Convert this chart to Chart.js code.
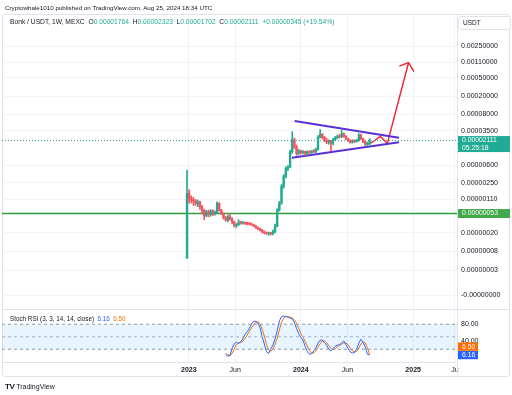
<!DOCTYPE html>
<html>
<head>
<meta charset="utf-8">
<script src="https://cdn.jsdelivr.net/npm/chart.js@4.4.1/dist/chart.umd.min.js"></script>
<style>
  body { margin: 0; background: #fff; font-family: "Liberation Sans", Arial, sans-serif; color: #131722; }
  #wrap { position: relative; width: 512px; height: 395px; overflow: hidden; }
  #frame { position: absolute; left: 2px; top: 14px; width: 506px; height: 361px; border: 1px solid #e0e3eb; border-radius: 3px; }
  canvas { position: absolute; left: 0; top: 0; }
  .txt { position: absolute; white-space: nowrap; }
  .up { color: #22ab94; }
  #usdt { position: absolute; left: 458px; top: 16px; width: 47px; height: 12px; border: 1px solid #e0e3eb; border-radius: 3px;
          font-size: 6.5px; line-height: 12px; padding-left: 4px; background: #fff; }
</style>
</head>
<body>
<div id="wrap">
  <div id="frame"></div>
  <canvas id="bonkChart" width="512" height="395"></canvas>
  <div class="txt" style="left:5px;top:4px;font-size:6.25px;line-height:8px;">Cryptowhale1010 published on TradingView.com, Aug 25, 2024 18:34 UTC</div>
  <div class="txt" style="left:10px;top:18px;font-size:6.7px;line-height:8px;">Bonk / USDT, 1W, MEXC&nbsp; O<span class="up">0.00001764</span>&nbsp; H<span class="up">0.00002323</span>&nbsp; L<span class="up">0.00001702</span>&nbsp; C<span class="up">0.00002111</span>&nbsp; <span class="up">+0.00000345 (+19.54%)</span></div>
  <div id="usdt">USDT</div>
  <div class="txt" style="left:10px;top:315px;font-size:6.3px;line-height:8px;">Stoch RSI (3, 3, 14, 14, close)&nbsp; <span style="color:#2962ff">6.16</span>&nbsp; <span style="color:#ff6d00">6.50</span></div>
  <div class="txt" style="left:5px;top:382px;font-size:7px;line-height:9px;"><b style="font-size:8px;letter-spacing:-0.5px">TV</b>&nbsp;TradingView</div>
</div>

<script>
    // weekly candles, first one is the week of 2022-12-26 (day -6 from 2023-01-01)
    const firstWeekDay = -6;
    const opens  = [5.6e-8, 1.47e-6, 1.15e-6, 1.05e-6, 1.00e-6, 8.9e-7, 9.5e-7, 7.5e-7, 6.3e-7, 4.8e-7,
                    5.8e-7, 5.0e-7, 6.0e-7, 5.2e-7, 5.6e-7, 8.9e-7, 6.3e-7, 5.2e-7, 4.3e-7, 3.8e-7,
                    4.5e-7, 4.1e-7, 3.5e-7, 2.9e-7, 3.0e-7, 3.4e-7, 3.3e-7, 3.35e-7, 3.25e-7, 3.2e-7,
                    3.15e-7, 3.0e-7, 2.85e-7, 2.6e-7, 2.45e-7, 2.3e-7, 2.1e-7, 2.0e-7, 1.95e-7, 2.0e-7,
                    1.9e-7, 2.1e-7, 2.8e-7, 6.3e-7, 8.9e-7, 2.06e-6, 3.4e-6, 5.2e-6, 5.6e-6, 1.2e-5,
                    2.2e-5, 1.55e-5, 1.1e-5, 1.25e-5, 1.15e-5, 1.2e-5, 1.1e-5, 1.2e-5, 1.15e-5, 1.22e-5,
                    1.2e-5, 1.35e-5, 2.5e-5, 2.9e-5, 2.5e-5, 2.15e-5, 1.95e-5, 2.05e-5, 1.85e-5, 2.25e-5,
                    2.45e-5, 2.6e-5, 2.55e-5, 3.0e-5, 2.6e-5, 2.3e-5, 2.1e-5, 1.95e-5, 2.1e-5, 2.0e-5,
                    2.15e-5, 2.8e-5, 2.3e-5, 2.0e-5, 1.75e-5, 1.764e-5];
    const highs  = [4.77e-6, 1.75e-6, 1.30e-6, 1.20e-6, 1.08e-6, 1.05e-6, 1.00e-6, 8.0e-7, 6.5e-7, 6.3e-7,
                    6.3e-7, 6.5e-7, 6.4e-7, 6.0e-7, 9.6e-7, 9.2e-7, 6.6e-7, 5.5e-7, 4.6e-7, 4.9e-7,
                    5.3e-7, 4.3e-7, 3.6e-7, 3.2e-7, 3.9e-7, 3.6e-7, 3.5e-7, 3.45e-7, 3.4e-7, 3.35e-7,
                    3.3e-7, 3.1e-7, 2.95e-7, 2.7e-7, 2.55e-7, 2.4e-7, 2.2e-7, 2.1e-7, 2.1e-7, 2.05e-7,
                    2.3e-7, 3.1e-7, 6.8e-7, 9.8e-7, 2.3e-6, 3.8e-6, 5.6e-6, 6.0e-6, 1.3e-5, 3.3e-5,
                    2.4e-5, 1.7e-5, 1.35e-5, 1.3e-5, 1.28e-5, 1.25e-5, 1.25e-5, 1.27e-5, 1.3e-5, 1.35e-5,
                    1.45e-5, 2.7e-5, 3.7e-5, 3.0e-5, 2.6e-5, 2.35e-5, 2.2e-5, 2.15e-5, 2.35e-5, 2.6e-5,
                    2.8e-5, 2.9e-5, 3.6e-5, 3.1e-5, 2.7e-5, 2.4e-5, 2.2e-5, 2.2e-5, 2.2e-5, 2.25e-5,
                    3.0e-5, 2.9e-5, 2.4e-5, 2.1e-5, 1.95e-5, 2.323e-5];
    const lows   = [5.5e-8, 9.0e-7, 9.0e-7, 8.0e-7, 8.0e-7, 7.5e-7, 6.5e-7, 5.2e-7, 3.9e-7, 4.5e-7,
                    4.5e-7, 4.6e-7, 4.8e-7, 4.9e-7, 5.4e-7, 6.0e-7, 5.0e-7, 4.0e-7, 3.6e-7, 3.5e-7,
                    3.8e-7, 3.2e-7, 2.7e-7, 2.6e-7, 2.9e-7, 3.1e-7, 3.1e-7, 3.05e-7, 3.0e-7, 3.0e-7,
                    2.9e-7, 2.75e-7, 2.5e-7, 2.35e-7, 2.2e-7, 2.0e-7, 1.9e-7, 1.85e-7, 1.75e-7, 1.8e-7,
                    1.8e-7, 2.0e-7, 2.7e-7, 6.0e-7, 8.5e-7, 1.9e-6, 3.2e-6, 4.6e-6, 5.4e-6, 1.1e-5,
                    1.4e-5, 1.0e-5, 1.02e-5, 1.08e-5, 1.08e-5, 1.0e-5, 1.05e-5, 1.1e-5, 1.1e-5, 1.15e-5,
                    1.15e-5, 1.3e-5, 2.4e-5, 2.3e-5, 2.0e-5, 1.8e-5, 1.75e-5, 1.25e-5, 1.7e-5, 2.1e-5,
                    2.3e-5, 2.4e-5, 2.45e-5, 2.5e-5, 2.2e-5, 2.0e-5, 1.85e-5, 1.85e-5, 1.9e-5, 1.95e-5,
                    2.05e-5, 2.2e-5, 1.9e-5, 1.65e-5, 1.6e-5, 1.702e-5];
    const closes = [1.47e-6, 1.15e-6, 1.05e-6, 1.00e-6, 8.9e-7, 9.5e-7, 7.5e-7, 6.3e-7, 4.8e-7, 5.8e-7,
                    5.0e-7, 6.0e-7, 5.2e-7, 5.6e-7, 8.9e-7, 6.3e-7, 5.2e-7, 4.3e-7, 3.8e-7, 4.5e-7,
                    4.1e-7, 3.5e-7, 2.9e-7, 3.0e-7, 3.4e-7, 3.3e-7, 3.35e-7, 3.25e-7, 3.2e-7, 3.15e-7,
                    3.0e-7, 2.85e-7, 2.6e-7, 2.45e-7, 2.3e-7, 2.1e-7, 2.0e-7, 1.95e-7, 2.0e-7, 1.9e-7,
                    2.1e-7, 2.8e-7, 6.3e-7, 8.9e-7, 2.06e-6, 3.4e-6, 5.2e-6, 5.6e-6, 1.2e-5, 2.2e-5,
                    1.55e-5, 1.1e-5, 1.25e-5, 1.15e-5, 1.2e-5, 1.1e-5, 1.2e-5, 1.15e-5, 1.22e-5, 1.2e-5,
                    1.35e-5, 2.5e-5, 2.9e-5, 2.5e-5, 2.15e-5, 1.95e-5, 2.05e-5, 1.85e-5, 2.25e-5, 2.45e-5,
                    2.6e-5, 2.55e-5, 3.0e-5, 2.6e-5, 2.3e-5, 2.1e-5, 1.95e-5, 2.1e-5, 2.0e-5, 2.15e-5,
                    2.8e-5, 2.3e-5, 2.0e-5, 1.75e-5, 1.764e-5, 2.111e-5];

    // Stoch RSI %K / %D, starting at candle index 18
    const stochStart = 18;
    const stochK = [8, 3, 5, 22, 33, 37, 34, 38, 45, 56,
                    62, 70, 80, 87, 87, 83, 72, 50, 33, 14,
                    10, 20, 30, 45, 65, 88, 98, 100, 98, 97,
                    95, 93, 84, 70, 57, 48, 42, 27, 15, 8,
                    9, 16, 23, 35, 42, 42, 36, 30, 20, 16,
                    21, 27, 30, 31, 35, 40, 31, 22, 14, 11,
                    13, 20, 35, 44, 36, 26, 8, 6.16];
    const stochD = [10, 7, 5, 10, 20, 31, 35, 36, 39, 46,
                    54, 63, 71, 79, 85, 86, 81, 68, 52, 32,
                    19, 15, 20, 32, 47, 66, 84, 95, 99, 98,
                    97, 95, 91, 82, 70, 58, 49, 39, 28, 17,
                    11, 11, 16, 25, 33, 40, 40, 36, 29, 22,
                    19, 21, 26, 29, 32, 35, 35, 31, 22, 16,
                    13, 15, 23, 33, 38, 35, 23, 6.5];
    const stochLevels = [80, 50, 20];

    // axis ticks (x in days since 2023-01-01)
    const timeTickDays   = [0, 151, 365, 517, 731, 867];
    const timeTickLabels = ['2023', 'Jun', '2024', 'Jun', '2025', 'Ju'];
    const priceTicks = [0.0025, 0.0011, 0.0005, 0.0002, 0.00008, 0.000035, 0.000006, 0.0000025,
                        0.0000011, 0.0000002, 0.00000008, 0.00000003, 0.0000000086];
    const stochTicks = [80, 40];

    // drawings on the chart (day, price)
    const supportPrice = 0.00000053;
    const lastPrice = 0.00002111;
    const triangleUpper = [{x: 345, y: 5.66e-5}, {x: 685, y: 2.44e-5}];
    const triangleLower = [{x: 336, y: 8.88e-6}, {x: 685, y: 1.93e-5}];
    const arrowPath = [{x: 593, y: 1.84e-5}, {x: 624, y: 2.59e-5}, {x: 647, y: 1.83e-5}, {x: 716, y: 1.076e-3}];
    const arrowHead = [{x: 686, y: 9.1e-4}, {x: 716, y: 1.076e-3}, {x: 734, y: 6.83e-4}];

    const xMin = -609, xMax = 874;
    const upColor = '#22ab94', downColor = '#f7525f';

    const weekDays = opens.map((o, i) => firstWeekDay + 7 * i);
    const candleColors = opens.map((o, i) => closes[i] >= o ? upColor : downColor);
    const span = v => [{x: xMin, y: v}, {x: xMax, y: v}];

    function box(ctx, x, yTop, w, h, bg, lines) {
        ctx.fillStyle = bg;
        ctx.fillRect(x, yTop, w, h);
        ctx.fillStyle = '#fff';
        ctx.font = '6.8px "Liberation Sans", Arial, sans-serif';
        ctx.textBaseline = 'middle';
        ctx.textAlign = 'left';
        lines.forEach((t, i) => ctx.fillText(t, x + 4, yTop + 4.5 + i * 7.5));
    }

    const overlay = {
        id: 'overlay',
        afterDraw(chart) {
            const {ctx, scales} = chart;
            const y = scales.y, y2 = scales.y2, x = scales.x;
            ctx.save();
            ctx.strokeStyle = '#e0e3eb';
            ctx.lineWidth = 1;
            ctx.beginPath();
            ctx.moveTo(2, Math.round(y2.top) + 0.5);
            ctx.lineTo(510, Math.round(y2.top) + 0.5);
            ctx.moveTo(Math.round(x.right) + 0.5, x.top);
            ctx.lineTo(Math.round(x.right) + 0.5, x.bottom);
            ctx.stroke();

            const lastY = y.getPixelForValue(lastPrice);
            box(ctx, x.right + 1, lastY - 4.5, 52, 16, '#22ab94', ['0.00002111', '05:25:18']);
            const supY = y.getPixelForValue(supportPrice);
            box(ctx, x.right + 1, supY - 4.5, 52, 9, '#43a84b', ['0.00000053']);

            const kY = y2.getPixelForValue(stochK[stochK.length - 1]);
            box(ctx, x.right + 1, kY - 4.2, 20, 8.4, '#2962ff', ['6.16']);
            box(ctx, x.right + 1, kY - 12.6, 20, 8.4, '#ff6d00', ['6.50']);
            ctx.restore();
        }
    };

    const lineDs = (data, color, width, extra) => Object.assign({
        type: 'line', data: data, borderColor: color, borderWidth: width,
        pointRadius: 0, fill: false, yAxisID: 'y'
    }, extra || {});

    new Chart(document.getElementById('bonkChart'), {
        type: 'line',
        data: {
            datasets: [
                {
                    type: 'bar', data: weekDays.map((d, i) => ({x: d, y: [lows[i], highs[i]]})),
                    backgroundColor: candleColors, barThickness: 1, grouped: false, yAxisID: 'y'
                },
                {
                    type: 'bar', data: weekDays.map((d, i) => ({x: d, y: [opens[i], closes[i]]})),
                    backgroundColor: candleColors, barThickness: 1.7, minBarLength: 1, grouped: false, yAxisID: 'y'
                },
                lineDs(span(supportPrice), '#2f9e3a', 1.4),
                lineDs(span(lastPrice), '#22ab94', 1, {borderDash: [1, 2]}),
                lineDs(triangleUpper, '#5b2fd6', 2),
                lineDs(triangleLower, '#5b2fd6', 2),
                lineDs(arrowPath, '#f0202c', 1.4),
                lineDs(arrowHead, '#f0202c', 1.4),
                lineDs(span(stochLevels[0]), '#9598a1', 1, {
                    yAxisID: 'y2', borderDash: [3, 3], fill: '+2', backgroundColor: 'rgba(33,150,243,0.1)'
                }),
                lineDs(span(stochLevels[1]), '#b2b5be', 1, {yAxisID: 'y2', borderDash: [3, 3]}),
                lineDs(span(stochLevels[2]), '#9598a1', 1, {yAxisID: 'y2', borderDash: [3, 3]}),
                lineDs(stochK.map((v, i) => ({x: weekDays[stochStart + i], y: v})), '#2962ff', 1, {yAxisID: 'y2'}),
                lineDs(stochD.map((v, i) => ({x: weekDays[stochStart + i], y: v})), '#ff6d00', 1, {yAxisID: 'y2'})
            ]
        },
        options: {
            responsive: false,
            animation: false,
            layout: {padding: {left: 2, top: 15, right: 2, bottom: 18}},
            plugins: {legend: {display: false}, tooltip: {enabled: false}},
            scales: {
                x: {
                    type: 'linear', min: xMin, max: xMax, bounds: 'data', offset: false,
                    afterBuildTicks: s => { s.ticks = timeTickDays.map(v => ({value: v})); },
                    afterFit: s => { s.height = 15; },
                    grid: {color: '#f0f3fa', drawTicks: false, offset: false},
                    border: {display: true, color: '#e0e3eb'},
                    ticks: {
                        autoSkip: false, maxRotation: 0, padding: 4, color: '#131722',
                        font: c => ({size: 7, family: '"Liberation Sans", Arial, sans-serif',
                                     weight: /^\d/.test(timeTickLabels[c.index]) ? 'bold' : 'normal'}),
                        callback: (v, i) => timeTickLabels[i]
                    }
                },
                y: {
                    type: 'logarithmic', position: 'right', stack: 'panes', stackWeight: 294,
                    min: 4.28e-9, max: 0.01197, bounds: 'data',
                    afterBuildTicks: s => { s.ticks = priceTicks.map(v => ({value: v})); },
                    afterFit: s => { s.width = 53; },
                    grid: {color: '#f2f4f8', drawTicks: false},
                    border: {display: true, color: '#e0e3eb'},
                    ticks: {
                        autoSkip: false, padding: 4, color: '#131722',
                        font: {size: 7, family: '"Liberation Sans", Arial, sans-serif'},
                        callback: v => v < 1e-8 ? '-0.00000000' : Number(v).toFixed(8)
                    }
                },
                y2: {
                    type: 'linear', position: 'right', stack: 'panes', stackWeight: 53,
                    min: -10.6, max: 116.6, bounds: 'data',
                    afterBuildTicks: s => { s.ticks = stochTicks.map(v => ({value: v})); },
                    afterFit: s => { s.width = 53; },
                    grid: {display: false, drawTicks: false},
                    border: {display: true, color: '#e0e3eb'},
                    ticks: {
                        autoSkip: false, padding: 4, color: '#131722',
                        font: {size: 7, family: '"Liberation Sans", Arial, sans-serif'},
                        callback: v => Number(v).toFixed(2)
                    }
                }
            }
        },
        plugins: [overlay]
    });
</script>
</body>
</html>
